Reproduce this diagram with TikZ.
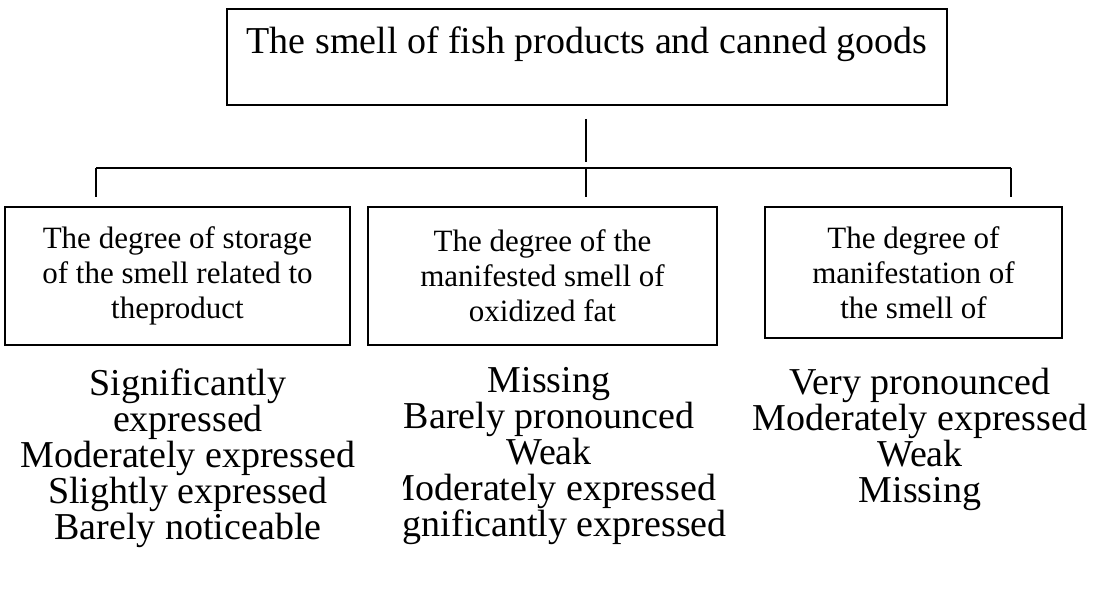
\documentclass[tikz,border=0pt]{standalone}
\usepackage{fontspec}
\setmainfont{Liberation Serif}
\begin{document}
\begin{tikzpicture}[x=1pt,y=-1pt,
  box/.style={draw, line width=1.5pt, inner sep=0pt, align=center},
  conn/.style={line width=1.5pt},
  boxfont/.style={font=\fontsize{31}{35}\selectfont},
  listfont/.style={font=\fontsize{38}{36}\selectfont, align=center, inner sep=0pt}]
\useasboundingbox (0,0) rectangle (1093,597);

% root box
\node[box, minimum width=720pt, minimum height=96pt,
      font=\fontsize{38}{34}\selectfont] (title) at (587,57)
  {The smell of fish products and canned goods\\\mbox{}};

% criteria boxes
\node[box, boxfont, minimum width=345pt, minimum height=138pt] (b1) at (177.5,276)
  {The degree of storage\\of the smell related to\\theproduct};
\node[box, boxfont, minimum width=349pt, minimum height=138pt] (b2) at (542.5,276)
  {The degree of the\\manifested smell of\\oxidized fat};
\node[box, boxfont, minimum width=297pt, minimum height=131pt] (b3) at (913.5,272.5)
  {The degree of\\manifestation of\\the smell of};

% bus line
\coordinate (hub) at (586,168);
\coordinate (busL) at (96,168);
\coordinate (busR) at (1011,168);
\draw[conn, shorten <=13pt, shorten >=6pt] (hub |- title.south) -- (hub);
\draw[conn] (busL) -- (busR);
\draw[conn, shorten >=9pt] (busL) -- (busL |- b1.north);
\draw[conn, shorten >=9pt] (hub) -- (hub |- b2.north);
\draw[conn, shorten >=9pt] (busR) -- (busR |- b3.north);

% grade lists
\node[listfont] (l1) at (188,458)
  {Significantly\\expressed\\Moderately expressed\\Slightly expressed\\Barely noticeable};
\begin{scope}
  \clip (403,350) rectangle (760,597);
  \node[listfont] (l2) at (549,456)
    {Missing\\Barely pronounced\\Weak\\Moderately expressed\\Significantly expressed};
\end{scope}
\node[listfont] (l3) at (920,439)
  {Very pronounced\\Moderately expressed\\Weak\\Missing};
\end{tikzpicture}
\end{document}
